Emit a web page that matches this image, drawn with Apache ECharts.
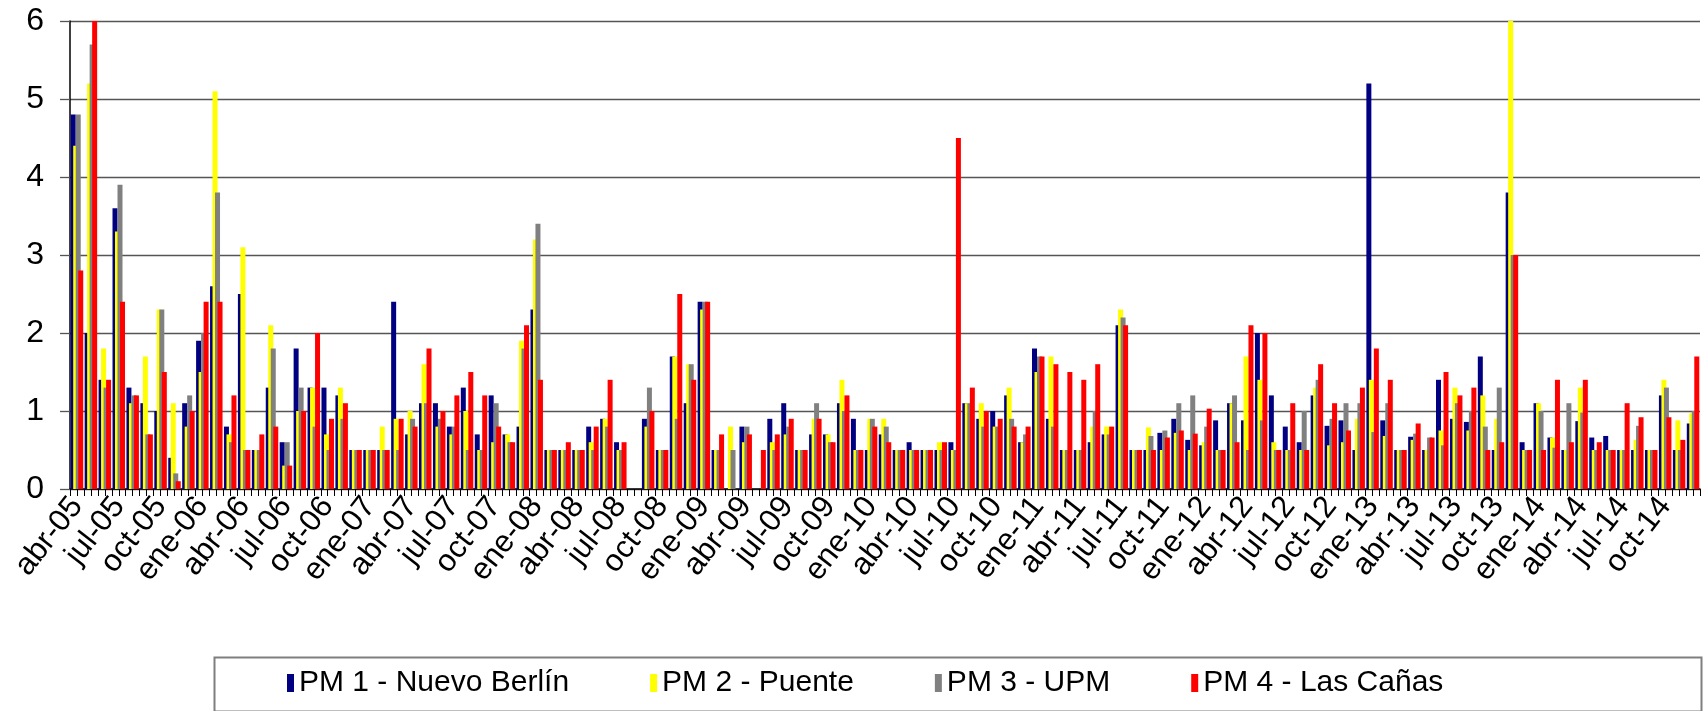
<!DOCTYPE html>
<html><head><meta charset="utf-8">
<script src="https://cdn.jsdelivr.net/npm/echarts@6/dist/echarts.min.js"></script>
<style>html,body{margin:0;padding:0;background:#fff}#c{width:1707px;height:711px}</style>
</head><body><div id="c"></div>
<script>
const monthNames = ['ene','feb','mar','abr','may','jun','jul','ago','sep','oct','nov','dic'];
const categories = [];
for (let y = 2005; y <= 2014; y++) {
  for (let m = 0; m < 12; m++) {
    if (y === 2005 && m < 3) continue;
    categories.push(monthNames[m] + '-' + String(y).slice(2));
  }
}
const seriesNames = ['PM 1 - Nuevo Berlín', 'PM 2 - Puente', 'PM 3 - UPM', 'PM 4 - Las Cañas'];
const pm1 = [4.8,2.0,1.4,3.6,1.3,1.1,1.0,0.4,1.1,1.9,2.6,0.8,2.5,0.5,1.3,0.6,1.8,1.3,1.3,1.2,
  0.5,0.5,0.5,2.4,0.7,1.1,1.1,0.8,1.3,0.7,1.2,0.7,0.8,2.3,0.5,0.5,0.5,0.8,0.9,0.6,
  null,0.9,0.5,1.7,1.1,2.4,0.5,null,0.8,null,0.9,1.1,0.5,0.7,0.7,1.1,0.9,0.5,0.7,0.5,
  0.6,0.5,0.5,0.6,1.1,0.9,1.0,1.2,0.6,1.8,0.9,0.5,0.5,0.6,0.7,2.1,0.5,0.5,0.72,0.9,
  0.63,0.56,0.88,1.1,0.88,2.0,1.2,0.8,0.6,1.2,0.81,0.88,0.5,5.2,0.88,0.5,0.67,0.5,1.4,0.9,
  0.86,1.7,0.5,3.8,0.6,1.1,0.66,0.5,0.87,0.66,0.68,0.5,0.5,0.5,1.2,0.5,0.84];
const pm2 = [4.4,5.2,1.8,3.3,1.1,1.7,2.3,1.1,0.8,1.5,5.1,0.7,3.1,0.5,2.1,0.3,1.0,1.3,0.7,1.3,
  0.5,0.5,0.8,0.9,1.0,1.6,0.8,0.7,1.0,0.5,0.6,0.7,1.9,3.2,0.5,0.5,0.5,0.6,0.9,0.5,
  null,0.8,0.5,1.7,1.6,2.3,0.5,0.8,0.6,null,0.6,0.7,0.5,0.9,0.7,1.4,0.5,0.9,0.9,0.5,
  0.5,0.5,0.6,0.5,1.1,1.1,0.8,1.3,0.6,1.5,1.7,0.5,0.5,0.8,0.8,2.3,0.5,0.79,0.5,0.72,
  0.5,0.6,0.5,1.1,1.7,1.4,0.6,0.5,0.5,1.3,0.56,0.6,0.9,1.4,0.68,0.5,0.63,0.5,0.75,1.3,
  0.75,1.2,0.9,6.3,0.5,1.1,0.66,0.5,1.3,0.5,0.5,0.5,0.63,0.5,1.4,0.88,0.97];
const pm3 = [4.8,5.7,1.3,3.9,1.2,0.7,2.3,0.2,1.2,2.0,3.8,0.6,0.5,0.5,1.8,0.6,1.3,0.8,0.5,0.9,
  0.5,0.5,0.5,0.5,0.9,1.1,0.9,0.8,0.5,0.5,1.1,0.6,1.8,3.4,0.5,0.5,0.5,0.5,0.8,0.5,
  null,1.3,0.5,0.9,1.6,2.4,0.5,0.5,0.8,null,0.5,0.8,0.5,1.1,0.6,1.0,0.5,0.9,0.8,0.5,
  0.5,0.5,0.5,0.5,1.1,0.8,0.8,0.9,0.7,1.7,0.8,0.5,0.5,1.0,0.7,2.2,0.5,0.68,0.75,1.1,
  1.2,0.8,0.5,1.2,0.5,0.88,0.5,0.5,1.0,1.4,0.9,1.1,1.1,0.73,1.1,0.5,0.71,0.66,0.56,1.1,
  1.0,0.8,1.3,3.0,0.5,1.0,0.53,1.1,0.98,0.5,0.5,0.5,0.81,0.5,1.3,0.5,1.0];
const pm4 = [2.8,6.0,1.4,2.4,1.2,0.7,1.5,0.1,1.0,2.4,2.4,1.2,0.5,0.7,0.8,0.3,1.0,2.0,0.9,1.1,
  0.5,0.5,0.5,0.9,0.8,1.8,1.0,1.2,1.5,1.2,0.8,0.6,2.1,1.4,0.5,0.6,0.5,0.8,1.4,0.6,
  null,1.0,0.5,2.5,1.4,2.4,0.7,null,0.7,0.5,0.7,0.9,0.5,0.9,0.6,1.2,0.5,0.8,0.6,0.5,
  0.5,0.5,0.6,4.5,1.3,1.0,0.9,0.8,0.8,1.7,1.6,1.5,1.4,1.6,0.8,2.1,0.5,0.5,0.66,0.75,
  0.71,1.03,0.5,0.6,2.1,2.0,0.5,1.1,0.5,1.6,1.1,0.75,1.3,1.8,1.4,0.5,0.84,0.66,1.5,1.2,
  1.3,0.5,0.6,3.0,0.5,0.5,1.4,0.6,1.4,0.6,0.5,1.1,0.92,0.5,0.92,0.63,1.7];
const yTicks = [0, 1, 2, 3, 4, 5, 6];
const colors = ['#000080', '#FFFF00', '#808080', '#FF0000'];

const tickCats = [];
for (let i = 0; i < categories.length * 2; i++) tickCats.push('');

const FONT = '"Liberation Sans", Arial, sans-serif';
const chart = echarts.init(document.getElementById('c'), null, {renderer: 'canvas'});
const seriesData = [pm1, pm2, pm3, pm4];
chart.setOption({
  animation: false,
  backgroundColor: '#fff',
  textStyle: {fontFamily: FONT},
  grid: {left: 70, right: 7, top: 21, bottom: 222, containLabel: false},
  legend: {
    data: seriesNames,
    left: 287, top: 668,
    itemWidth: 7, itemHeight: 18, itemGap: 81,
    icon: 'rect', padding: 0,
    textStyle: {fontFamily: FONT, fontSize: 30, color: '#000', lineHeight: 30}
  },
  graphic: [{
    type: 'rect', left: 212, top: 655,
    shape: {width: 1487, height: 54},
    style: {fill: 'none', stroke: '#7f7f7f', lineWidth: 2}
  }],
  xAxis: [{
    type: 'category', data: categories, boundaryGap: true,
    axisLine: {lineStyle: {color: '#000', width: 1.5}},
    axisTick: {show: false},
    axisLabel: {interval: 2, rotate: 52, fontSize: 31, color: '#000', margin: 12, fontFamily: FONT},
    splitLine: {show: false}
  }, {
    type: 'category', data: tickCats, boundaryGap: true, position: 'bottom',
    axisLine: {show: false},
    axisTick: {show: true, interval: 0, length: 7, lineStyle: {color: '#000', width: 1}},
    axisLabel: {show: false}, splitLine: {show: false}
  }],
  yAxis: {
    type: 'value', min: yTicks[0], max: yTicks[yTicks.length - 1], interval: 1,
    axisLine: {show: true, lineStyle: {color: '#000', width: 1.5}},
    axisTick: {show: true, length: 10, lineStyle: {color: '#555', width: 1.3}},
    axisLabel: {fontSize: 32, color: '#000', margin: 26, fontFamily: FONT},
    splitLine: {lineStyle: {color: '#555', width: 1.3}}
  },
  series: seriesData.map((d, k) => ({
    name: seriesNames[k], type: 'bar', data: d, xAxisIndex: 0,
    barWidth: 5, barGap: '-50%',
    itemStyle: {color: colors[k]},
    clip: true
  }))
});
</script></body></html>
